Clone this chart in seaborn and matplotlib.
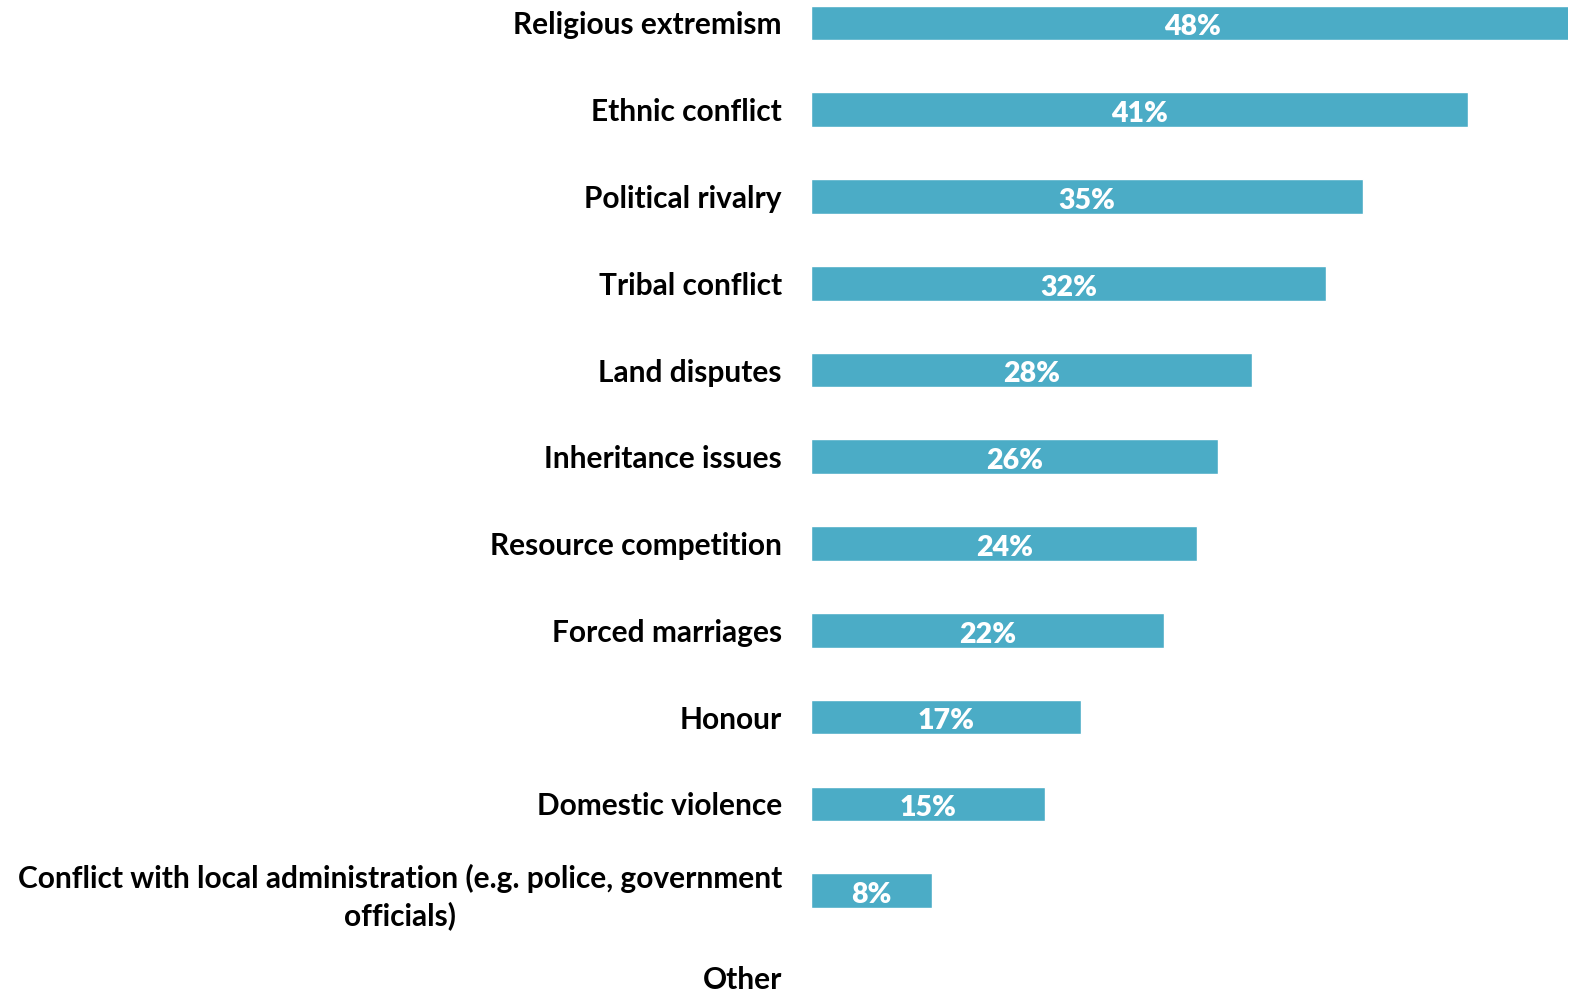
import matplotlib
matplotlib.use("Agg")
import matplotlib.pyplot as plt
import seaborn as sns
import pandas as pd

categories = [
    "Religious extremism",
    "Ethnic conflict",
    "Political rivalry",
    "Tribal conflict",
    "Land disputes",
    "Inheritance issues",
    "Resource competition",
    "Forced marriages",
    "Honour",
    "Domestic violence",
    "Conflict with local administration (e.g. police, government\nofficials)",
    "Other",
]
values = [48, 41.3, 34.7, 32.4, 27.7, 25.6, 24.3, 22.2, 17.0, 14.7, 7.6, 0]

sns.set_theme(style="white")
plt.rcParams['font.family'] = ['Lato', 'DejaVu Sans']

df = pd.DataFrame({"cat": categories, "val": values})

fig = plt.figure(figsize=(15.73, 9.93), dpi=100)
ax = fig.add_axes([811/1573, 0, (1568-811)/1573, 1])
sns.barplot(data=df, y="cat", x="val", color="#4BACC6", saturation=1, width=0.4, ax=ax, orient="h")

ax.set_xlim(0, 47.6)
ax.set_ylim(11.18, -0.265)
for s in ax.spines.values():
    s.set_visible(False)
ax.set_xticks([])
ax.set_xlabel("")
ax.set_ylabel("")
ax.tick_params(axis="y", length=0, pad=21)
for lab in ax.get_yticklabels():
    lab.set_fontsize(21.5)
    lab.set_fontweight("bold")
    lab.set_color("black")
    lab.set_multialignment("center")
    lab.set_linespacing(1.35)

for i, v in enumerate(values):
    if v > 0:
        ax.text(v / 2, i + 0.05, f"{v:.0f}%", ha="center", va="center", color="white",
                fontsize=20.5, fontweight="heavy", clip_on=False)

fig.savefig("out.png", dpi=100)
